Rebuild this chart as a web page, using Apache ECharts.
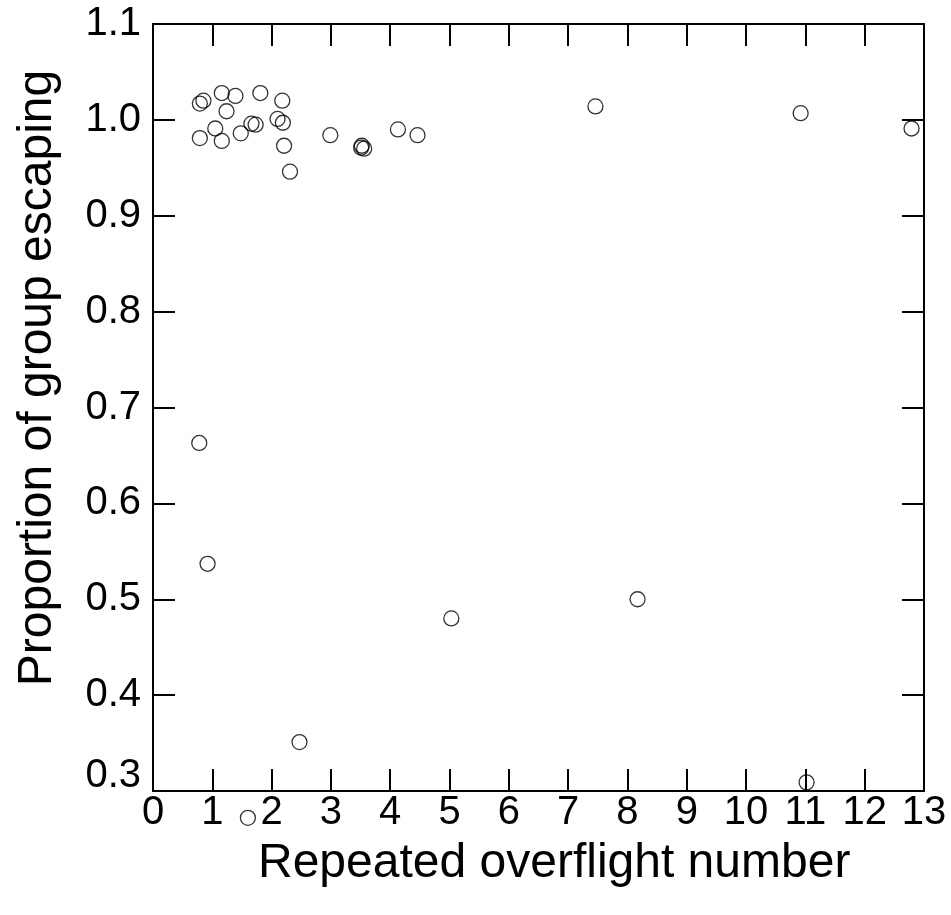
<!DOCTYPE html>
<html>
<head>
<meta charset="utf-8">
<script src="https://cdn.jsdelivr.net/npm/echarts@6/dist/echarts.min.js"></script>
<style>
html,body{margin:0;padding:0;background:#fff;}
#chart{width:951px;height:915px;}
</style>
</head>
<body>
<div id="chart"></div>
<script>
const xValues = [0.79,0.85,1.16,1.39,1.81,2.18,1.24,0.79,1.05,1.16,1.48,1.66,1.73,2.10,2.19,2.21,2.31,2.99,3.51,3.56,3.52,4.13,4.46,7.46,10.92,12.79,0.78,0.92,5.03,2.47,8.17,11.02,1.6];
const yValues = [1.017,1.020,1.028,1.025,1.028,1.020,1.009,0.981,0.991,0.978,0.986,0.996,0.995,1.001,0.997,0.973,0.946,0.984,0.971,0.970,0.973,0.990,0.984,1.014,1.007,0.991,0.663,0.537,0.480,0.351,0.500,0.309,0.272];
const xTicks = [0,1,2,3,4,5,6,7,8,9,10,11,12,13];
const yTicks = [0.3,0.4,0.5,0.6,0.7,0.8,0.9,1.0,1.1];
const xTitle = 'Repeated overflight number';
const yTitle = 'Proportion of group escaping';

const points = xValues.map((x, i) => [x, yValues[i]]);
const FONT = '"Liberation Sans", Arial, sans-serif';

const lineStyle = {color: '#000', width: 2};
const tickCommon = {show: true, inside: true, length: 22, lineStyle: {color: '#000', width: 2}};

const chart = echarts.init(document.getElementById('chart'), null, {renderer: 'canvas'});
chart.setOption({
  backgroundColor: '#fff',
  animation: false,
  grid: {left: 153, right: 27, top: 24, bottom: 124, containLabel: false},
  xAxis: [{
    type: 'value', min: xTicks[0], max: xTicks[xTicks.length-1], interval: 1,
    position: 'bottom',
    axisLine: {show: true, lineStyle: lineStyle},
    axisTick: tickCommon,
    splitLine: {show: false},
    axisLabel: {show: true, margin: 2, color: '#000', fontFamily: FONT, fontSize: 40,
      formatter: v => String(Math.round(v))}
  }, {
    type: 'value', min: xTicks[0], max: xTicks[xTicks.length-1], interval: 1,
    position: 'top',
    axisLine: {show: true, onZero: false, lineStyle: lineStyle},
    axisTick: tickCommon,
    splitLine: {show: false},
    axisLabel: {show: false}
  }],
  yAxis: [{
    type: 'value', min: yTicks[0], max: yTicks[yTicks.length-1], interval: 0.1,
    position: 'left',
    axisLine: {show: true, lineStyle: lineStyle},
    axisTick: tickCommon,
    splitLine: {show: false},
    axisLabel: {show: true, margin: 12, color: '#000', fontFamily: FONT, fontSize: 40,
      formatter: v => Math.abs(v - yTicks[0]) < 1e-6 ? '{lo|' + v.toFixed(1) + '}' : v.toFixed(1),
      rich: {lo: {fontFamily: FONT, fontSize: 40, color: '#000', padding: [0, 0, 30, 0]}}}
  }, {
    type: 'value', min: yTicks[0], max: yTicks[yTicks.length-1], interval: 0.1,
    position: 'right',
    axisLine: {show: true, onZero: false, lineStyle: lineStyle},
    axisTick: tickCommon,
    splitLine: {show: false},
    axisLabel: {show: false}
  }],
  graphic: [{
    type: 'text', left: 553 - 295, top: 840,
    style: {text: xTitle, font: '48px ' + FONT, fill: '#000', textAlign: 'left'}
  }, {
    type: 'text', x: 38, y: 378, rotation: Math.PI / 2,
    style: {text: yTitle, font: '48px ' + FONT, fill: '#000', align: 'center', verticalAlign: 'middle'}
  }],
  series: [{
    type: 'scatter',
    xAxisIndex: 0, yAxisIndex: 0,
    data: points,
    symbol: 'circle',
    symbolSize: 15,
    clip: false,
    itemStyle: {color: 'rgba(0,0,0,0)', borderColor: '#000', borderWidth: 1.3},
    emphasis: {disabled: true}
  }]
});
</script>
</body>
</html>
